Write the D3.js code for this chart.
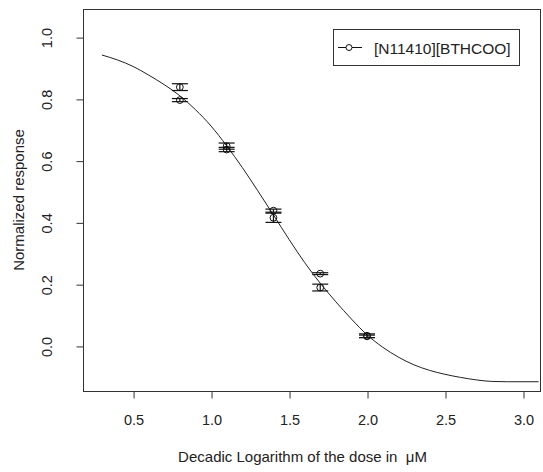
<!DOCTYPE html>
<html>
<head>
<meta charset="utf-8">
<script src="https://cdn.jsdelivr.net/npm/d3@7"></script>
<style>
  body { margin: 0; background: #fff; }
  text { font-family: "Liberation Sans", Arial, sans-serif; fill: #222; }
</style>
</head>
<body>
<div id="chart"></div>
<script>
// fitted curve
const curveX = [0.3, 0.4, 0.5, 0.6, 0.7, 0.8, 0.9, 1.0, 1.1, 1.2, 1.3, 1.4, 1.5, 1.6, 1.7, 1.8, 1.9, 2.0,
  2.1, 2.2, 2.3, 2.4, 2.5, 2.6, 2.7, 2.8, 2.9, 3.0, 3.1]
const curveY = [0.942, 0.926, 0.905, 0.877, 0.846, 0.81, 0.765, 0.712, 0.648, 0.578, 0.502, 0.424, 0.345, 0.27,
  0.203, 0.143, 0.087, 0.036, -0.004, -0.036, -0.061, -0.079, -0.092, -0.102, -0.11, -0.115, -0.116, -0.116, -0.116]

// measured points (two replicates per dose) with standard errors
const doseX = [0.8, 0.8, 1.1, 1.1, 1.4, 1.4, 1.7, 1.7, 2.0, 2.0]
const respY = [0.838, 0.796, 0.647, 0.636, 0.438, 0.415, 0.234, 0.189, 0.033, 0.031]
const respErr = [0.011, 0.005, 0.01, 0.007, 0.005, 0.015, 0.003, 0.011, 0.006, 0.004]

const xTicks = [0.5, 1.0, 1.5, 2.0, 2.5, 3.0]
const yTicks = [0.0, 0.2, 0.4, 0.6, 0.8, 1.0]
const seriesName = '[N11410][BTHCOO]'

const W = 543
const H = 472
const box = { left: 83, right: 540, top: 9, bottom: 391 }
const FONT = '"Liberation Sans", Arial, sans-serif'

const svg = d3.select('#chart').append('svg')
  .attr('width', W)
  .attr('height', H)

const x = d3.scaleLinear().domain([0.179, 3.109]).range([box.left, box.right])
const y = d3.scaleLinear().domain([-0.146, 1.091]).range([box.bottom, box.top])

// plot frame
svg.append('rect')
  .attr('x', box.left + 0.5)
  .attr('y', box.top + 0.5)
  .attr('width', box.right - box.left)
  .attr('height', box.bottom - box.top)
  .attr('fill', 'none')
  .attr('stroke', '#333')

// axes (R style, ticks outside, no domain line)
const xAxis = svg.append('g')
  .attr('transform', `translate(0.5,${box.bottom + 0.5})`)
  .call(d3.axisBottom(x).tickValues(xTicks).tickFormat(d3.format('.1f')).tickSize(7).tickPadding(16))
xAxis.select('.domain').remove()
xAxis.selectAll('line').attr('stroke', '#333')
xAxis.selectAll('text')
  .attr('font-size', 14.5)
  .attr('fill', '#222')
  .style('font-family', FONT)

const yAxis = svg.append('g')
  .attr('transform', `translate(${box.left + 0.5},0.5)`)
  .call(d3.axisLeft(y).tickValues(yTicks).tickFormat(d3.format('.1f')).tickSize(7))
yAxis.select('.domain').remove()
yAxis.selectAll('line').attr('stroke', '#333')
yAxis.selectAll('text')
  .attr('x', 0)
  .attr('dy', null)
  .attr('text-anchor', 'middle')
  .attr('transform', 'translate(-37,0) rotate(-90)')
  .attr('font-size', 14.5)
  .attr('fill', '#222')
  .style('font-family', FONT)
  .attr('dominant-baseline', 'central')

// axis titles
svg.append('text')
  .attr('x', (box.left + box.right) / 2 - 9)
  .attr('y', 462)
  .attr('text-anchor', 'middle')
  .attr('font-size', 15)
  .style('white-space', 'pre')
  .text('Decadic Logarithm of the dose in  \u03bcM')

svg.append('text')
  .attr('transform', `translate(24,${(box.top + box.bottom) / 2}) rotate(-90)`)
  .attr('text-anchor', 'middle')
  .attr('font-size', 15)
  .text('Normalized response')

// fitted curve
const line = d3.line()
  .x(d => x(d[0]))
  .y(d => y(d[1]))
  .curve(d3.curveMonotoneX)

svg.append('path')
  .datum(d3.zip(curveX, curveY))
  .attr('d', line)
  .attr('fill', 'none')
  .attr('stroke', '#222')
  .attr('stroke-width', 1)

// error bars
const pts = doseX.map((d, i) => ({ x: d, y: respY[i], e: respErr[i] }))
const bars = svg.append('g').attr('stroke', '#111').attr('stroke-width', 1.2)
pts.forEach(p => {
  const cx = x(p.x)
  bars.append('line')
    .attr('x1', cx).attr('x2', cx)
    .attr('y1', y(p.y - p.e)).attr('y2', y(p.y + p.e))
  ;[p.y - p.e, p.y + p.e].forEach(v => {
    bars.append('line')
      .attr('x1', cx - 8).attr('x2', cx + 8)
      .attr('y1', y(v)).attr('y2', y(v))
  })
})

svg.append('g')
  .selectAll('circle')
  .data(pts)
  .join('circle')
  .attr('cx', d => x(d.x))
  .attr('cy', d => y(d.y))
  .attr('r', 3.4)
  .attr('fill', 'none')
  .attr('stroke', '#111')
  .attr('stroke-width', 1)

// legend
const lg = svg.append('g').attr('transform', 'translate(333,29)')
lg.append('rect')
  .attr('x', 0.5).attr('y', 0.5)
  .attr('width', 186).attr('height', 36)
  .attr('fill', '#fff')
  .attr('stroke', '#333')
lg.append('line')
  .attr('x1', 5).attr('x2', 29)
  .attr('y1', 18.5).attr('y2', 18.5)
  .attr('stroke', '#111')
lg.append('circle')
  .attr('cx', 16).attr('cy', 18.5).attr('r', 3)
  .attr('fill', '#fff')
  .attr('stroke', '#111')
lg.append('text')
  .attr('x', 41).attr('y', 19)
  .attr('dominant-baseline', 'central')
  .attr('font-size', 15.5)
  .text(seriesName)
</script>
</body>
</html>
